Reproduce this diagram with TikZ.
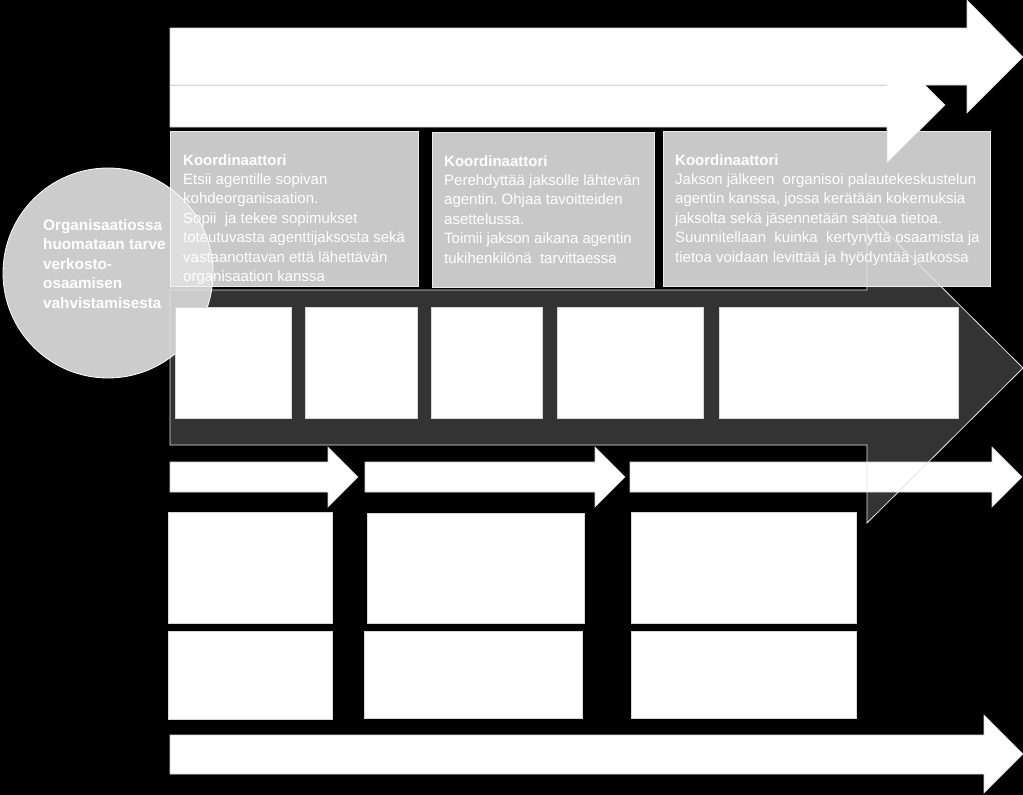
\documentclass[tikz,border=0pt]{standalone}
\usepackage{fontspec}
\setmainfont{Liberation Sans}
\frenchspacing
\definecolor{darkarrow}{RGB}{51,51,51}
\definecolor{boxgray}{RGB}{200,200,200}
\definecolor{edgegray}{RGB}{215,215,215}
\definecolor{circlegray}{RGB}{204,204,204}
\begin{document}
\begin{tikzpicture}[x=1pt,y=-1pt,
  whiteshape/.style={fill=white,draw=edgegray,line width=0.6pt},
  infobox/.style={rectangle,fill=boxgray,draw=white!92!black,line width=0.8pt,
    anchor=north west,inner sep=0pt,minimum height=155pt,minimum width=#1},
  infotext/.style={anchor=north west,inner sep=0pt,align=left,text=white,
    font=\fontsize{15}{19.4}\selectfont},
  emptybox/.style 2 args={rectangle,whiteshape,anchor=north west,inner sep=0pt,
    minimum width=#1,minimum height=#2}]
  \useasboundingbox (0,0) rectangle (1023,795);
  \fill[black] (0,0) rectangle (1023,795);

  % dark main arrow
  \fill[darkarrow] (170,290) -- (867,290) -- (867,213) -- (1023,368)
    -- (867,523) -- (867,445) -- (170,445) -- cycle;

  % start circle
  \node[circle,minimum size=210pt,fill=circlegray,draw=white,line width=0.8pt]
    (org) at (108,273) {};

  % coordinator boxes
  \node[infobox=248pt] (k1) at (170,131) {};
  \node[infobox=222pt] (k2) at (432,132) {};
  \node[infobox=327pt] (k3) at (663,131) {};
  \node[infotext] (k1txt) at (183,154) {\textbf{Koordinaattori}\\
    Etsii agentille sopivan\\ kohdeorganisaation.\\
    Sopii\ \ ja tekee sopimukset\\ toteutuvasta agenttijaksosta sekä\\
    vastaanottavan että lähettävän\\ organisaation kanssa};
  \node[infotext] (k2txt) at (444,155) {\textbf{Koordinaattori}\\
    Perehdyttää jaksolle lähtevän\\ agentin. Ohjaa tavoitteiden\\
    asettelussa.\\ Toimii jakson aikana agentin\\ tukihenkilönä\ \ tarvittaessa};
  \node[infotext] (k3txt) at (675,154) {\textbf{Koordinaattori}\\
    Jakson jälkeen\ \ organisoi palautekeskustelun\\
    agentin kanssa, jossa kerätään kokemuksia\\
    jaksolta sekä jäsennetään saatua tietoa.\\
    Suunnitellaan\ \ kuinka\ \ kertynyttä osaamista ja\\
    tietoa voidaan levittää ja hyödyntää jatkossa};

  % circle seen over the first box
  \begin{scope}
    \clip (k1.north west) rectangle (k1.south east);
    \fill[white,fill opacity=0.4] (org.center) circle[radius=105pt];
    \draw[white,line width=0.8pt] (org.center) circle[radius=105pt];
  \end{scope}
  \node[anchor=north west,inner sep=0pt,align=left,text=white,
    font=\fontsize{15.3}{19.5}\selectfont\bfseries] (orgtxt) at (43,219)
    {Organisaatiossa\\ huomataan tarve\\ verkosto-\\ osaamisen\\ vahvistamisesta};

  % top arrows
  \draw[whiteshape] (170,28) -- (967,28) -- (967,0) -- (1023,57)
    -- (967,113) -- (967,85) -- (170,85) -- cycle;
  \fill[white] (170,85) -- (887,85) -- (887,47) -- (945,105)
    -- (887,163) -- (887,127) -- (170,127) -- cycle;
  \draw[edgegray,line width=0.6pt] (170,85) -- (887,85);
  \draw[edgegray,line width=0.6pt] (925,85) -- (945,105) -- (887,163)
    -- (887,127) -- (170,127) -- (170,85);

  % boxes inside the main arrow
  \node[emptybox={116pt}{111pt}] (w1) at (175,307) {};
  \node[emptybox={112pt}{111pt}] (w2) at (305,307) {};
  \node[emptybox={111pt}{111pt}] (w3) at (431,307) {};
  \node[emptybox={146pt}{111pt}] (w4) at (557,307) {};
  \node[emptybox={239pt}{111pt}] (w5) at (719,307) {};

  % small arrows
  \foreach \xa/\xb in {170/328, 365/595, 630/992}
    \draw[whiteshape] (\xa,462) -- (\xb,462) -- (\xb,447) -- (\xb+30,477)
      -- (\xb,507) -- (\xb,492) -- (\xa,492) -- cycle;

  % lower boxes
  \node[emptybox={164pt}{111pt}] (b1) at (168,512) {};
  \node[emptybox={217pt}{110pt}] (b2) at (367,513) {};
  \node[emptybox={225pt}{111pt}] (b3) at (631,512) {};
  \node[emptybox={164pt}{88pt}] (c1) at (168,631) {};
  \node[emptybox={218pt}{87pt}] (c2) at (364,631) {};
  \node[emptybox={225pt}{87pt}] (c3) at (631,631) {};

  % bottom arrow
  \draw[whiteshape] (170,735) -- (984,735) -- (984,715) -- (1023,754)
    -- (984,793) -- (984,774) -- (170,774) -- cycle;

  % outline of the main arrow
  \draw[white!90!black,line width=0.8pt] (170,290) -- (867,290) -- (867,213)
    -- (1023,368) -- (867,523) -- (867,445) -- (170,445) -- cycle;
\end{tikzpicture}
\end{document}
